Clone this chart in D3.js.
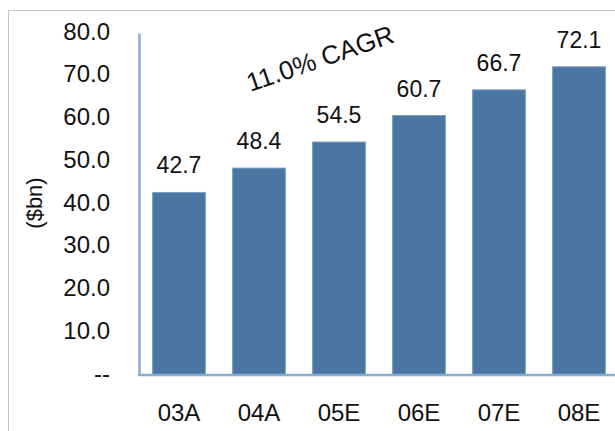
<!DOCTYPE html>
<html>
<head>
<meta charset="utf-8">
<script src="https://cdn.jsdelivr.net/npm/d3@7"></script>
<style>
  html, body { margin: 0; padding: 0; background: #fff; }
  svg { display: block; font-family: "Liberation Sans", Arial, sans-serif; }
</style>
</head>
<body>
<svg id="chart" width="615" height="431"></svg>
<script>
// Market size by year, $bn
const years = ["03A", "04A", "05E", "06E", "07E", "08E"];
const values = [42.7, 48.4, 54.5, 60.7, 66.7, 72.1];
const yTicks = [0, 10, 20, 30, 40, 50, 60, 70, 80];
const yTickLabels = ["--", "10.0", "20.0", "30.0", "40.0", "50.0", "60.0", "70.0", "80.0"];
const cagrLabel = "11.0% CAGR";
const unitLabel = "($bn)";

const svg = d3.select("#chart");
const W = 615, H = 431;
const margin = { left: 139, right: -4, top: 33, bottom: 56 };
const FONT = "Liberation Sans, Arial, sans-serif";

// outer frame (top and left edges visible)
svg.append("path")
  .attr("d", `M8.5,${H} L8.5,10.5 L${W},10.5`)
  .attr("fill", "none")
  .attr("stroke", "#c4c4c4")
  .attr("stroke-width", 1);

const x = d3.scaleBand()
  .domain(years)
  .range([margin.left, W - margin.right])
  .paddingInner(0.34)
  .paddingOuter(0.17);

const y = d3.scaleLinear()
  .domain([0, 80])
  .range([H - margin.bottom, margin.top]);

// bars
svg.append("g").selectAll("rect")
  .data(values)
  .join("rect")
  .attr("x", (d, i) => x(years[i]))
  .attr("y", d => y(d))
  .attr("width", x.bandwidth())
  .attr("height", d => y(0) - y(d))
  .attr("fill", "#4a76a2")
  .attr("stroke", "#7e9ec3")
  .attr("stroke-width", 1);

// value labels
svg.append("g").selectAll("text")
  .data(values)
  .join("text")
  .attr("x", (d, i) => x(years[i]) + x.bandwidth() / 2)
  .attr("y", d => y(d) - 19)
  .attr("text-anchor", "middle")
  .attr("font-size", 23)
  .attr("fill", "#111")
  .text(d => d.toFixed(1));

// y axis
const yAxis = d3.axisLeft(y)
  .tickValues(yTicks)
  .tickSize(0)
  .tickPadding(29)
  .tickFormat((d, i) => yTickLabels[i]);
const gy = svg.append("g")
  .attr("transform", `translate(${margin.left},0)`)
  .call(yAxis);
gy.select(".domain").attr("stroke", "#8badd3").attr("stroke-width", 2.5);
gy.selectAll("text").attr("font-size", 24).attr("fill", "#111")
  .attr("font-family", FONT).attr("dy", "0.25em");

// x axis
const xAxis = d3.axisBottom(x).tickSize(0).tickPadding(29);
const gx = svg.append("g")
  .attr("transform", `translate(0,${y(0)})`)
  .call(xAxis);
gx.select(".domain").attr("stroke", "#8badd3").attr("stroke-width", 2.5)
  .attr("d", `M${margin.left - 1},0H${W}`);
gx.selectAll("text").attr("font-size", 24).attr("fill", "#111")
  .attr("font-family", FONT);

// unit label
svg.append("text")
  .attr("transform", "translate(42,203) rotate(-90)")
  .attr("text-anchor", "middle")
  .attr("font-size", 22)
  .attr("fill", "#111")
  .text(unitLabel);

// growth annotation
svg.append("text")
  .attr("transform", "translate(323,67) rotate(-19)")
  .attr("text-anchor", "middle")
  .attr("font-size", 26)
  .attr("fill", "#111")
  .text(cagrLabel);
</script>
</body>
</html>
